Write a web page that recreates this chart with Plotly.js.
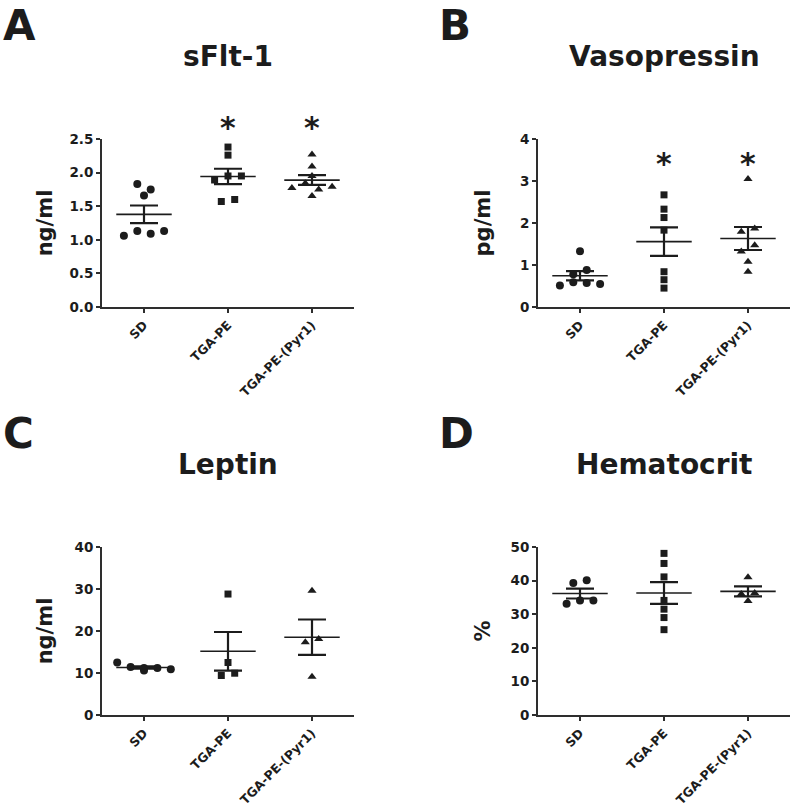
<!DOCTYPE html>
<html>
<head>
<meta charset="utf-8">
<script src="https://cdn.plot.ly/plotly-3.0.1.min.js"></script>
<style>html,body{margin:0;padding:0;background:#fff;}</style>
</head>
<body>
<div id="chart" style="width:792px;height:810px;"></div>
<script>
// ---------------- DATA ----------------
const categories = ['SD', 'TGA-PE', 'TGA-PE-(Pyr1)'];

// Panel A – sFlt-1 (ng/ml)
const sflt_SD    = [1.83, 1.75, 1.66, 1.06, 1.13, 1.09, 1.13];
const sflt_TGAPE = [2.38, 2.26, 1.89, 1.95, 1.95, 1.57, 1.60];
const sflt_Pyr1  = [2.27, 2.09, 1.95, 1.77, 1.84, 1.75, 1.79, 1.65];
const sflt_ticks = [0, 0.5, 1.0, 1.5, 2.0, 2.5];
const sflt_sig   = [false, true, true];
const sflt_sigLevel = 2.76;

// Panel B – Vasopressin (pg/ml)
const vaso_SD    = [1.33, 0.78, 0.88, 0.51, 0.59, 0.57, 0.55];
const vaso_TGAPE = [2.67, 2.33, 2.13, 1.83, 0.84, 0.65, 0.45];
const vaso_Pyr1  = [3.05, 1.79, 1.87, 1.32, 1.47, 1.08, 0.84];
const vaso_ticks = [0, 1, 2, 3, 4];
const vaso_sig   = [false, true, true];
const vaso_sigLevel = 3.56;

// Panel C – Leptin (ng/ml)
const leptin_SD    = [12.5, 10.6, 11.4, 11.2, 11.2, 10.9];
const leptin_TGAPE = [28.8, 12.5, 9.4, 9.95];
const leptin_Pyr1  = [29.6, 17.3, 18.1, 9.1];
const leptin_ticks = [0, 10, 20, 30, 40];

// Panel D – Hematocrit (%)
const hct_SD    = [39.3, 40.1, 33.1, 34.1, 34.1];
const hct_TGAPE = [48.1, 45.1, 41.1, 34.1, 31.5, 29.0, 25.4];
const hct_Pyr1  = [41.0, 36.0, 36.3, 33.9];
const hct_ticks = [0, 10, 20, 30, 40, 50];

// ---------------- STYLE / GEOMETRY ----------------
const W = 792, H = 810;
const FONT = 'DejaVu Sans, Liberation Sans, Arial, sans-serif';
const INK = '#1c1c1c';
const AXIS = '#2e2e2e';
const symbols = ['circle', 'square', 'triangle-up'];
const msize = [8, 7, 8];
const ROW_PX = 7, SLOT_PX = 13.4;
const MEAN_HALF = 0.33;

const panels = [
  {title: 'sFlt-1', letter: 'A', ytitle: 'ng/ml', groups: [sflt_SD, sflt_TGAPE, sflt_Pyr1],
   ticks: sflt_ticks, fmt: '.1f', sig: sflt_sig, sigLevel: sflt_sigLevel,
   xpx: [102, 354], ypx: [139, 307], standoff: 11, letterX: 1},
  {title: 'Vasopressin', letter: 'B', ytitle: 'pg/ml', groups: [vaso_SD, vaso_TGAPE, vaso_Pyr1],
   ticks: vaso_ticks, fmt: 'd', sig: vaso_sig, sigLevel: vaso_sigLevel,
   xpx: [538, 790], ypx: [139, 307], standoff: 24, letterX: 437},
  {title: 'Leptin', letter: 'C', ytitle: 'ng/ml', groups: [leptin_SD, leptin_TGAPE, leptin_Pyr1],
   ticks: leptin_ticks, fmt: 'd', sig: null,
   xpx: [102, 354], ypx: [547, 715], standoff: 16, letterX: 1},
  {title: 'Hematocrit', letter: 'D', ytitle: '%', groups: [hct_SD, hct_TGAPE, hct_Pyr1],
   ticks: hct_ticks, fmt: 'd', sig: null,
   xpx: [538, 790], ypx: [547, 715], standoff: 14, letterX: 437}
];

function mean(a) { return a.reduce((s, v) => s + v, 0) / a.length; }
function sem(a) {
  const m = mean(a);
  const v = a.reduce((s, x) => s + (x - m) * (x - m), 0) / (a.length - 1);
  return Math.sqrt(v / a.length);
}

// GraphPad-like scatter: points in the same horizontal band are spread side by side
function swarmX(vals, center, pxPerY, pxPerX) {
  const idx = vals.map((v, i) => i).sort((a, b) => vals[b] - vals[a]);
  const rows = [];
  let cur = null;
  idx.forEach(i => {
    if (cur && (vals[cur.anchor] - vals[i]) * pxPerY < ROW_PX) cur.members.push(i);
    else { cur = {anchor: i, members: [i]}; rows.push(cur); }
  });
  const xs = new Array(vals.length);
  rows.forEach(r => {
    r.members.sort((a, b) => a - b);
    const n = r.members.length;
    r.members.forEach((i, k) => { xs[i] = center + (k - (n - 1) / 2) * SLOT_PX / pxPerX; });
  });
  return xs;
}

const traces = [];
const layout = {
  width: W, height: H,
  margin: {l: 0, r: 0, t: 0, b: 0},
  paper_bgcolor: '#fff', plot_bgcolor: '#fff',
  showlegend: false,
  font: {family: FONT, color: INK},
  annotations: []
};

panels.forEach((p, k) => {
  const n = k + 1;
  const xa = n === 1 ? 'x' : 'x' + n;
  const ya = n === 1 ? 'y' : 'y' + n;
  const xKey = n === 1 ? 'xaxis' : 'xaxis' + n;
  const yKey = n === 1 ? 'yaxis' : 'yaxis' + n;
  const xr = [-0.5, 2.5];
  const yr = [p.ticks[0], p.ticks[p.ticks.length - 1]];
  const pxPerX = (p.xpx[1] - p.xpx[0]) / (xr[1] - xr[0]);
  const pxPerY = (p.ypx[1] - p.ypx[0]) / (yr[1] - yr[0]);
  const yDomain = [1 - p.ypx[1] / H, 1 - p.ypx[0] / H];
  const toPaperY = v => yDomain[0] + (v - yr[0]) / (yr[1] - yr[0]) * (yDomain[1] - yDomain[0]);

  p.groups.forEach((vals, g) => {
    traces.push({
      type: 'scatter', mode: 'markers', xaxis: xa, yaxis: ya,
      name: categories[g],
      x: swarmX(vals, g, pxPerY, pxPerX), y: vals,
      marker: {symbol: symbols[g], size: msize[g], color: INK, line: {width: 0}},
      cliponaxis: false, hoverinfo: 'y'
    });
  });

  const means = p.groups.map(mean);
  const sems = p.groups.map(sem);
  traces.push({
    type: 'scatter', mode: 'markers', xaxis: xa, yaxis: ya,
    name: 'mean ± SEM',
    x: [0, 1, 2], y: means,
    marker: {size: 1, color: 'rgba(0,0,0,0)'},
    error_y: {type: 'data', array: sems, visible: true, width: 14, thickness: 2.2, color: INK},
    error_x: {type: 'data', array: [MEAN_HALF, MEAN_HALF, MEAN_HALF], visible: true, width: 0, thickness: 1.6, color: INK},
    cliponaxis: false, hoverinfo: 'skip'
  });

  layout[xKey] = {
    domain: [p.xpx[0] / W, p.xpx[1] / W], anchor: ya,
    range: xr, tickmode: 'array', tickvals: [0, 1, 2], ticktext: categories,
    tickangle: -45, ticks: 'outside', ticklen: 4, tickwidth: 2, tickcolor: AXIS,
    showline: true, linewidth: 2, linecolor: AXIS,
    showgrid: false, zeroline: false, fixedrange: true,
    tickfont: {family: FONT, size: 12.5, color: INK, weight: 'bold'}
  };
  layout[yKey] = {
    domain: yDomain, anchor: xa,
    range: yr, tickmode: 'array', tickvals: p.ticks, tickformat: p.fmt,
    ticks: 'outside', ticklen: 4, tickwidth: 2, tickcolor: AXIS,
    showline: true, linewidth: 2, linecolor: AXIS,
    showgrid: false, zeroline: false, fixedrange: true,
    tickfont: {family: FONT, size: 13.5, color: INK, weight: 'bold'},
    title: {text: p.ytitle, standoff: p.standoff, font: {family: FONT, size: 21, color: INK, weight: 'bold'}}
  };

  // panel title
  layout.annotations.push({
    xref: 'paper', yref: 'paper',
    x: (p.xpx[0] + p.xpx[1]) / 2 / W, y: 1 - (p.ypx[0] - 82.5) / H,
    xanchor: 'center', yanchor: 'middle', showarrow: false,
    text: p.title, font: {family: FONT, size: 28, color: INK, weight: 'bold'}
  });
  // panel letter
  layout.annotations.push({
    xref: 'paper', yref: 'paper',
    x: p.letterX / W, y: 1 - (p.ypx[0] - 114) / H,
    xanchor: 'left', yanchor: 'middle', showarrow: false,
    text: p.letter, font: {family: FONT, size: 42, color: INK, weight: 'bold'}
  });
  // significance asterisks
  if (p.sig) {
    p.sig.forEach((s, g) => {
      if (!s) return;
      layout.annotations.push({
        xref: xa, yref: 'paper', x: g, y: toPaperY(p.sigLevel),
        xanchor: 'center', yanchor: 'middle', showarrow: false, yshift: -6,
        text: '*', font: {family: FONT, size: 30, color: INK, weight: 'bold'}
      });
    });
  }
});

Plotly.newPlot('chart', traces, layout, {staticPlot: true, displayModeBar: false});
</script>
</body>
</html>
